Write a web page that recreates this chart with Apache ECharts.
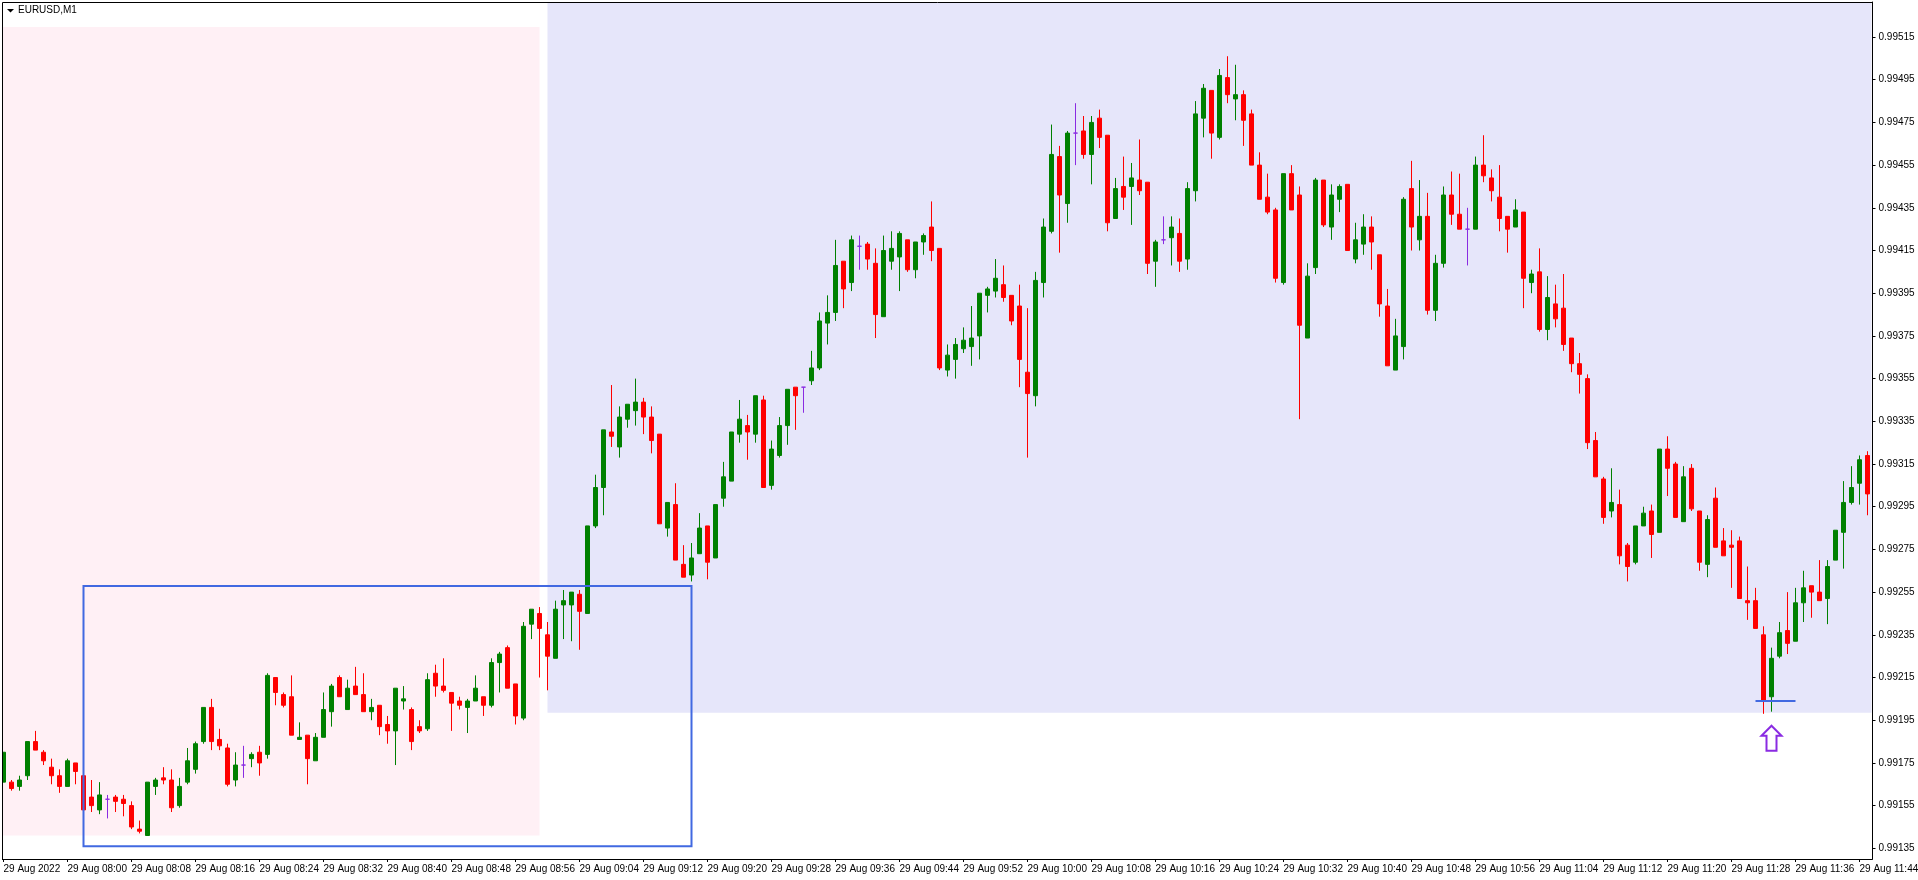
<!DOCTYPE html>
<html>
<head>
<meta charset="utf-8">
<style>html,body{margin:0;padding:0;background:#fff}#chart{width:1918px;height:880px}</style>
<script src="https://cdn.jsdelivr.net/npm/echarts@6/dist/echarts.min.js"></script>
</head>
<body>
<div id="chart"></div>
<script>
// Prices are stored in points (1 point = 0.00001).
const opens = [
99166,99166,99164,99169,99185,99180,99173,99169,99164,99175,
99169,99159,99153,99158,99159,99158,99155,99144,99141,99164,
99168,99167,99155,99166,99172,99185,99201,99186,99182,99167,
99174,99177,99180,99179,99215,99207,99206,99186,99188,99176,
99187,99199,99215,99200,99211,99207,99199,99202,99193,99190,
99204,99200,99192,99191,99217,99211,99208,99204,99201,99204,
99206,99202,99222,99229,99212,99196,99240,99245,99235,99224,
99249,99249,99254,99245,99286,99304,99330,99323,99336,99340,
99344,99337,99329,99285,99296,99268,99263,99273,99286,99271,
99299,99307,99329,99333,99329,99345,99305,99319,99333,99351,
99351,99354,99360,99381,99386,99410,99400,99417,99418,99409,
99384,99410,99412,99420,99406,99419,99426,99416,99359,99364,
99369,99370,99375,99394,99396,99399,99394,99389,99358,99347,
99400,99424,99459,99437,99470,99471,99460,99477,99469,99430,
99445,99445,99448,99447,99410,99420,99421,99423,99411,99443,
99477,99490,99468,99496,99486,99488,99479,99455,99440,99434,
99400,99451,99441,99374,99407,99448,99426,99439,99446,99411,
99418,99426,99413,99389,99359,99370,99444,99420,99431,99387,
99409,99441,99432,99425,99425,99455,99449,99440,99431,99426,
99433,99400,99405,99378,99390,99388,99374,99362,99355,99326,
99308,99293,99296,99277,99269,99286,99293,99283,99322,99315,
99288,99313,99293,99268,99299,99279,99277,99279,99251,99251,
99235,99206,99225,99237,99232,99250,99258,99255,99252,99270,
99283,99297,99306,99319];
const closes = [
99180,99163,99167,99185,99181,99176,99169,99164,99176,99171,
99153,99155,99160,99158,99157,99156,99145,99143,99166,99167,
99167,99154,99164,99176,99184,99201,99185,99183,99165,99174,
99174,99179,99175,99216,99208,99202,99188,99187,99177,99187,
99200,99211,99206,99210,99207,99199,99201,99192,99190,99210,
99205,99185,99190,99214,99211,99209,99203,99202,99204,99210,
99202,99222,99226,99210,99197,99239,99247,99238,99225,99247,
99251,99255,99246,99286,99304,99331,99328,99337,99343,99344,
99337,99326,99287,99297,99270,99262,99271,99285,99269,99296,
99309,99330,99336,99330,99347,99304,99322,99333,99350,99347,
99351,99360,99382,99386,99408,99397,99420,99417,99411,99385,
99415,99416,99423,99406,99419,99422,99415,99360,99366,99371,
99373,99374,99395,99397,99402,99393,99382,99364,99348,99401,
99426,99460,99441,99470,99470,99460,99475,99468,99428,99444,
99440,99449,99443,99409,99419,99420,99426,99410,99444,99479,
99491,99470,99497,99488,99488,99476,99455,99439,99433,99402,
99451,99434,99380,99403,99448,99427,99441,99445,99415,99420,
99426,99419,99390,99361,99375,99439,99426,99431,99387,99409,
99441,99432,99425,99425,99455,99450,99443,99430,99425,99434,
99402,99404,99378,99393,99383,99371,99362,99357,99325,99309,
99290,99297,99272,99267,99286,99292,99282,99322,99313,99290,
99309,99294,99269,99289,99276,99272,99276,99252,99250,99238,
99204,99224,99236,99231,99250,99257,99255,99251,99267,99284,
99297,99304,99317,99301];
const lows = [
99166,99162,99162,99167,99181,99174,99165,99161,99164,99165,
99153,99152,99151,99149,99152,99150,99144,99142,99141,99160,
99165,99152,99154,99165,99170,99184,99181,99181,99164,99164,
99168,99173,99169,99177,99202,99201,99188,99186,99165,99176,
99187,99192,99206,99200,99207,99199,99195,99188,99184,99174,
99200,99181,99189,99190,99206,99208,99190,99200,99189,99204,
99197,99201,99208,99210,99193,99195,99233,99215,99209,99224,
99233,99232,99228,99245,99285,99291,99323,99318,99332,99333,
99329,99320,99287,99281,99270,99262,99260,99273,99261,99271,
99295,99307,99325,99317,99325,99304,99303,99318,99324,99331,
99339,99352,99359,99371,99382,99388,99396,99406,99406,99374,
99384,99406,99396,99405,99402,99413,99410,99359,99356,99355,
99367,99361,99364,99386,99393,99391,99380,99351,99318,99342,
99393,99423,99414,99428,99455,99458,99446,99463,99424,99430,
99434,99427,99441,99404,99398,99418,99408,99405,99406,99438,
99468,99458,99467,99484,99476,99464,99455,99439,99432,99400,
99399,99434,99336,99374,99404,99426,99420,99433,99415,99409,
99413,99406,99384,99361,99359,99364,99415,99415,99385,99382,
99407,99427,99425,99408,99425,99447,99438,99424,99414,99426,
99388,99395,99377,99373,99379,99368,99358,99348,99322,99309,
99287,99290,99268,99260,99268,99286,99271,99283,99300,99290,
99288,99293,99265,99262,99276,99272,99257,99252,99242,99238,
99198,99199,99224,99226,99232,99241,99243,99251,99240,99270,
99266,99296,99296,99291];
const highs = [
99180,99167,99169,99185,99190,99181,99177,99172,99177,99175,
99169,99167,99166,99160,99160,99160,99157,99148,99166,99168,
99173,99172,99168,99182,99185,99201,99205,99191,99184,99180,
99183,99180,99183,99217,99215,99208,99216,99194,99188,99189,
99208,99212,99216,99214,99220,99217,99205,99202,99197,99210,
99211,99201,99195,99217,99221,99224,99208,99206,99205,99216,
99206,99224,99227,99230,99212,99241,99247,99248,99241,99251,
99256,99255,99256,99286,99310,99331,99352,99342,99343,99355,
99346,99342,99329,99297,99306,99277,99278,99292,99286,99296,
99316,99330,99345,99338,99347,99347,99326,99337,99350,99351,
99351,99368,99386,99394,99420,99410,99422,99422,99419,99416,
99422,99424,99424,99420,99419,99423,99438,99416,99371,99374,
99379,99389,99395,99398,99411,99408,99394,99399,99388,99405,
99430,99474,99464,99471,99484,99478,99478,99481,99469,99449,
99459,99456,99467,99447,99420,99431,99431,99430,99447,99485,
99493,99490,99500,99506,99502,99490,99481,99461,99451,99435,
99451,99455,99445,99409,99449,99448,99446,99446,99446,99428,
99432,99431,99413,99397,99383,99440,99457,99448,99442,99413,
99445,99452,99451,99435,99459,99469,99453,99455,99431,99439,
99433,99406,99416,99403,99399,99404,99374,99367,99357,99330,
99309,99313,99303,99278,99286,99295,99296,99322,99328,99316,
99314,99315,99293,99291,99304,99285,99284,99281,99267,99257,
99239,99229,99241,99255,99257,99265,99258,99270,99270,99284,
99307,99314,99319,99321];
const POINT = 0.00001;
const FIRST_TIME_MINUTES = 7 * 60 + 52;
const LABEL_EVERY = 8;
const priceTicks = [0.99135,0.99155,0.99175,0.99195,0.99215,0.99235,0.99255,0.99275,0.99295,0.99315,0.99335,0.99355,0.99375,0.99395,0.99415,0.99435,0.99455,0.99475,0.99495,0.99515];
const symbolName = "EURUSD,M1";

// Chart objects: [first bar, last bar, upper price, lower price]
const pinkZone = [0, 67, 0.991410, 0.995197];
const lavenderZone = [68, null, 0.991985, null];
const blueBox = [10, 86, 0.991360, 0.992579];
const blueLine = [219, 224, 0.99204];
const arrowAt = [221, 0.991924];

const categories = opens.map((_, i) => {
  const t = FIRST_TIME_MINUTES + i;
  const hh = String(Math.floor(t / 60)).padStart(2, "0");
  const mm = String(t % 60).padStart(2, "0");
  return i === 0 ? "29 Aug 2022" : "29 Aug " + hh + ":" + mm;
});
const candleData = opens.map((o, i) => [o * POINT, closes[i] * POINT, lows[i] * POINT, highs[i] * POINT]);

const FONT = "'Liberation Sans',sans-serif";
const GREEN = "#008000", RED = "#FF0000", DOJI = "#8A2BE2", BLUE = "#4169E1";

function zoneSeries(zone, color, z) {
  return {
    type: "custom", z: z, silent: true, clip: true, coordinateSystem: "cartesian2d",
    data: [[zone[0], zone[2]]],
    renderItem(params, api) {
      const cs = params.coordSys;
      const a = api.coord([zone[0], zone[2]]);
      const b = zone[1] === null ? [cs.x + cs.width, 0] : api.coord([zone[1], zone[3]]);
      const x1 = zone[0] === 0 ? cs.x : a[0];
      const y2 = zone[3] === null ? cs.y : b[1];
      return { type: "rect", shape: { x: x1, y: y2, width: b[0] - x1, height: a[1] - y2 }, style: { fill: color } };
    }
  };
}

const option = {
  animation: false,
  backgroundColor: "#fff",
  title: { text: symbolName, left: 18, top: 5, padding: 0, textStyle: { fontFamily: FONT, fontSize: 10, fontWeight: "normal", color: "#000" } },
  grid: { left: -0.5, top: 2, width: 1872, height: 857, containLabel: false, outerBoundsMode: "none" },
  xAxis: {
    type: "category", data: categories, boundaryGap: true,
    axisLine: { show: true, lineStyle: { color: "#000", width: 1 } },
    axisTick: { show: true, alignWithLabel: true, length: 3, interval: i => i % LABEL_EVERY === 0, lineStyle: { color: "#000" } },
    axisLabel: { show: true, interval: i => i % LABEL_EVERY === 0, align: "left", margin: 5, hideOverlap: false, showMinLabel: true, showMaxLabel: true, fontFamily: FONT, fontSize: 10, color: "#000" },
    splitLine: { show: false }
  },
  yAxis: {
    type: "value", position: "right", offset: 1, scale: true, min: 0.9913, max: 0.995314,
    axisLine: { show: true, onZero: false, lineStyle: { color: "#000", width: 1 } },
    axisTick: { show: true, length: 3, customValues: priceTicks, lineStyle: { color: "#000" } },
    axisLabel: { show: true, margin: 6, customValues: priceTicks, formatter: v => v.toFixed(5), fontFamily: FONT, fontSize: 10, color: "#000" },
    splitLine: { show: false }
  },
  series: [
    zoneSeries(pinkZone, "#FFF0F5", 1),
    zoneSeries(lavenderZone, "#E6E6FA", 1),
    {
      type: "candlestick", z: 3, data: candleData, barWidth: 4, clip: true, silent: true,
      itemStyle: { color: GREEN, color0: RED, borderColor: GREEN, borderColor0: RED, borderColorDoji: DOJI, borderWidth: 1 }
    },
    {
      type: "custom", z: 4, silent: true, coordinateSystem: "cartesian2d", data: [[blueBox[0], blueBox[3]]],
      renderItem(params, api) {
        const a = api.coord([blueBox[0], blueBox[3]]);
        const b = api.coord([blueBox[1], blueBox[2]]);
        return { type: "rect", shape: { x: a[0], y: a[1], width: b[0] - a[0], height: b[1] - a[1] }, style: { fill: "none", stroke: BLUE, lineWidth: 2 } };
      }
    },
    {
      type: "custom", z: 4, silent: true, coordinateSystem: "cartesian2d", data: [[blueLine[0], blueLine[2]]],
      renderItem(params, api) {
        const a = api.coord([blueLine[0], blueLine[2]]);
        const b = api.coord([blueLine[1], blueLine[2]]);
        return { type: "line", shape: { x1: a[0], y1: a[1], x2: b[0], y2: b[1] }, style: { stroke: BLUE, lineWidth: 2 } };
      }
    },
    {
      type: "custom", z: 4, silent: true, coordinateSystem: "cartesian2d", data: [arrowAt],
      renderItem(params, api) {
        const p = api.coord(arrowAt);
        const x = p[0], y = p[1];
        return { type: "polygon", shape: { points: [[x, y], [x + 10, y + 10], [x + 5, y + 10], [x + 5, y + 25], [x - 5, y + 25], [x - 5, y + 10], [x - 10, y + 10]] }, style: { fill: "#fff", stroke: DOJI, lineWidth: 2 } };
      }
    }
  ],
  graphic: [
    { type: "rect", z: 100, silent: true, shape: { x: 0, y: 0, width: 2, height: 880 }, style: { fill: "#fff" } },
    { type: "rect", z: 101, silent: true, shape: { x: 2.5, y: 2.5, width: 1870, height: 857 }, style: { fill: "none", stroke: "#000", lineWidth: 1 } },
    { type: "polygon", z: 101, silent: true, shape: { points: [[7, 9], [14, 9], [10.5, 12.5]] }, style: { fill: "#000" } }
  ]
};
const chart = echarts.init(document.getElementById("chart"), null, { renderer: "canvas" });
chart.setOption(option);
</script>
</body>
</html>
